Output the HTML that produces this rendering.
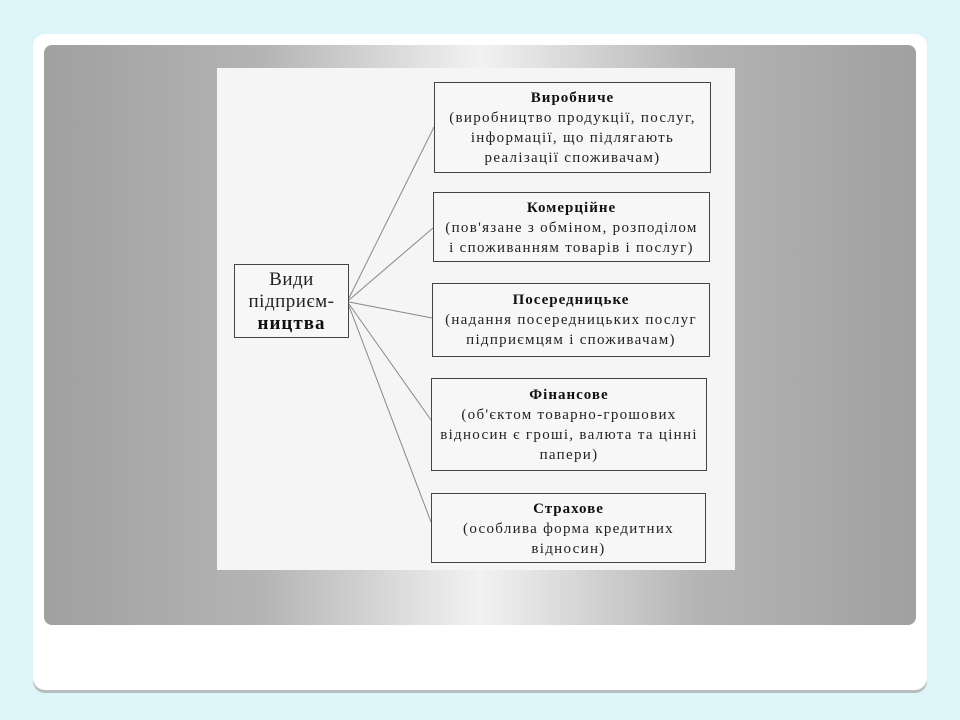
<!DOCTYPE html>
<html><head><meta charset="utf-8"><style>
body{margin:0;width:960px;height:720px;background:#ddf4f9;position:relative;overflow:hidden;font-family:"Liberation Serif","DejaVu Serif",serif;}
.card{position:absolute;left:33px;top:34px;width:894px;height:656px;background:#fff;border-radius:12px;box-shadow:0 3px 0 #b8bcbd;}
.panel{position:absolute;left:44px;top:45px;width:872px;height:580px;border-radius:8px;background:linear-gradient(90deg,#a0a0a0 0%,#b4b4b4 25%,#f2f2f2 50%,#b4b4b4 75%,#a0a0a0 100%);}
.img{position:absolute;left:217px;top:68px;width:518px;height:502px;background:#f5f5f5;}
.box{position:absolute;border:1.5px solid #444;background:#f7f7f7;text-align:center;font-size:15px;letter-spacing:1.3px;line-height:20px;color:#222;box-sizing:border-box;white-space:nowrap;}
.box b{color:#111;letter-spacing:1px;}
svg{position:absolute;left:0;top:0;}
</style></head><body>
<div class="card"></div>
<div class="panel"></div>
<div class="img"></div>
<svg width="960" height="720"><g stroke="#888" stroke-width="1" fill="none">
<line x1="349" y1="298" x2="434" y2="127"/>
<line x1="349" y1="300" x2="433" y2="228"/>
<line x1="349" y1="302" x2="432" y2="318"/>
<line x1="349" y1="304" x2="431" y2="420"/>
<line x1="349" y1="306" x2="431" y2="522"/>
</g></svg>
<div class="box" style="left:234px;top:264px;width:115px;height:74px;font-size:19px;line-height:22px;padding-top:4px;letter-spacing:0.5px;color:#222;">Види<br>підприєм-<br><b>ництва</b></div>
<div class="box" style="left:434px;top:82px;width:277px;height:91px;padding-top:5px;"><b>Виробниче</b><br>(виробництво продукції, послуг,<br>інформації, що підлягають<br>реалізації споживачам)</div>
<div class="box" style="left:433px;top:192px;width:277px;height:70px;padding-top:5px;"><b>Комерційне</b><br>(пов'язане з обміном, розподілом<br>і споживанням товарів і послуг)</div>
<div class="box" style="left:432px;top:283px;width:278px;height:74px;padding-top:6px;"><b>Посередницьке</b><br>(надання посередницьких послуг<br>підприємцям і споживачам)</div>
<div class="box" style="left:431px;top:378px;width:276px;height:93px;padding-top:6px;"><b>Фінансове</b><br>(об'єктом товарно-грошових<br>відносин є гроші, валюта та цінні<br>папери)</div>
<div class="box" style="left:431px;top:493px;width:275px;height:70px;padding-top:5px;"><b>Страхове</b><br>(особлива форма кредитних<br>відносин)</div>
</body></html>
